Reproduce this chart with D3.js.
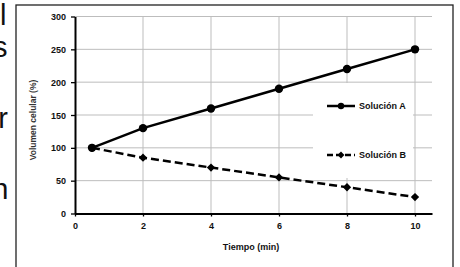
<!DOCTYPE html>
<html><head><meta charset="utf-8">
<script src="https://cdn.jsdelivr.net/npm/d3@7"></script>
<style>
html,body{margin:0;padding:0;background:#fff;}
svg{display:block;}
text{font-family:"Liberation Sans",Arial,sans-serif;}
</style></head>
<body>
<svg id="c" width="460" height="267"></svg>
<script>
const timeA = [0.5, 2, 4, 6, 8, 10];
const solucionA = [100, 130, 160, 190, 220, 250];
const timeB = [0.5, 2, 4, 6, 8, 10];
const solucionB = [100, 85, 70, 55, 40, 25];
const xTicks = [0, 2, 4, 6, 8, 10];
const yTicks = [0, 50, 100, 150, 200, 250, 300];
const seriesNames = ["Solución A", "Solución B"];
const sideLetters = ["l", "s", "r", "n"];
const xTitle = "Tiempo (min)";
const yTitle = "Volumen celular (%)";

const svg = d3.select("#c");
const x = d3.scaleLinear().domain([0, 10.5]).range([75, 432]);
const y = d3.scaleLinear().domain([0, 300]).range([213.5, 16.5]);

// side text fragments (cut off at the left edge, as in the reference)
const letterY = [25, 57, 128, 199];
const letterX = [6.5, 7.5, 8, 8.5];
svg.selectAll("text.side").data(sideLetters).enter().append("text")
  .attr("class","side").attr("x",(d,i)=>letterX[i]).attr("y",(d,i)=>letterY[i])
  .attr("text-anchor","end").attr("font-size",29).attr("fill","#111").text(d=>d);

// outer border
svg.append("rect").attr("x",16).attr("y",5).attr("width",437).attr("height",280)
  .attr("fill","none").attr("stroke","#222").attr("stroke-width",1.3);

// gridlines
const g = svg.append("g");
g.selectAll("line.hg").data(yTicks.filter(d=>d>0)).enter().append("line")
  .attr("x1",x(0)).attr("x2",x(10.5)).attr("y1",d=>y(d)).attr("y2",d=>y(d))
  .attr("stroke","#bdbdbd").attr("stroke-width",1);
g.selectAll("line.vg").data(xTicks.filter(d=>d>0)).enter().append("line")
  .attr("x1",d=>x(d)).attr("x2",d=>x(d)).attr("y1",y(300)).attr("y2",y(0))
  .attr("stroke","#bdbdbd").attr("stroke-width",1);

// legend background
svg.append("rect").attr("x",313).attr("y",83).attr("width",100).attr("height",95).attr("fill","#fff");

// axes
const ax = svg.append("g").attr("transform",`translate(0,${y(0)})`)
  .call(d3.axisBottom(x).tickValues(xTicks).tickSize(3).tickSizeOuter(0).tickPadding(6).tickFormat(d3.format("d")));
const ay = svg.append("g").attr("transform",`translate(${x(0)},0)`)
  .call(d3.axisLeft(y).tickValues(yTicks).tickSize(4).tickSizeOuter(0).tickPadding(5));
[ax, ay].forEach(a=>{
  a.select(".domain").attr("stroke","#000").attr("stroke-width",2);
  a.selectAll(".tick line").attr("stroke","#000").attr("stroke-width",1.3);
  a.selectAll(".tick text").attr("font-size",9).attr("font-weight","bold").attr("fill","#111")
    .style("font-family",'"Liberation Sans",Arial,sans-serif');
});
ay.selectAll(".tick text").attr("dy","0.35em");

// titles
svg.append("text").attr("x",251).attr("y",250).attr("text-anchor","middle")
  .attr("font-size",9).attr("font-weight","bold").attr("fill","#111").text(xTitle);
svg.append("text").attr("transform","translate(36,120) rotate(-90)").attr("text-anchor","middle")
  .attr("font-size",8.5).attr("font-weight","bold").attr("fill","#333").text(yTitle);

// lines
const lineGen = d3.line().x(d=>x(d[0])).y(d=>y(d[1]));
const dataA = timeA.map((t,i)=>[t, solucionA[i]]);
const dataB = timeB.map((t,i)=>[t, solucionB[i]]);
svg.append("path").attr("d",lineGen(dataA)).attr("fill","none").attr("stroke","#000").attr("stroke-width",2.5);
svg.append("path").attr("d",lineGen(dataB)).attr("fill","none").attr("stroke","#000").attr("stroke-width",2.5)
  .attr("stroke-dasharray","8,4");
svg.selectAll("circle.a").data(dataA).enter().append("circle")
  .attr("cx",d=>x(d[0])).attr("cy",d=>y(d[1])).attr("r",4.2).attr("fill","#000");
const diamond = d3.symbol().type(d3.symbolDiamond2).size(44);
svg.selectAll("path.b").data(dataB).enter().append("path")
  .attr("transform",d=>`translate(${x(d[0])},${y(d[1])})`).attr("d",diamond).attr("fill","#000");

// legend
const leg = [{y:106, dash:null, sym:"c"},{y:155, dash:"6,3", sym:"d"}];
leg.forEach((l,i)=>{
  svg.append("line").attr("x1",327).attr("x2",355).attr("y1",l.y).attr("y2",l.y)
    .attr("stroke","#000").attr("stroke-width",2.5).attr("stroke-dasharray",l.dash);
  if(l.sym==="c") svg.append("circle").attr("cx",341).attr("cy",l.y).attr("r",3.2).attr("fill","#000");
  else svg.append("path").attr("transform",`translate(341,${l.y})`).attr("d",d3.symbol().type(d3.symbolDiamond2).size(30)).attr("fill","#000");
  svg.append("text").attr("x",359).attr("y",l.y).attr("dy","0.35em").attr("font-size",9)
    .attr("font-weight","bold").attr("fill","#111").text(seriesNames[i]);
});
</script>
</body></html>
